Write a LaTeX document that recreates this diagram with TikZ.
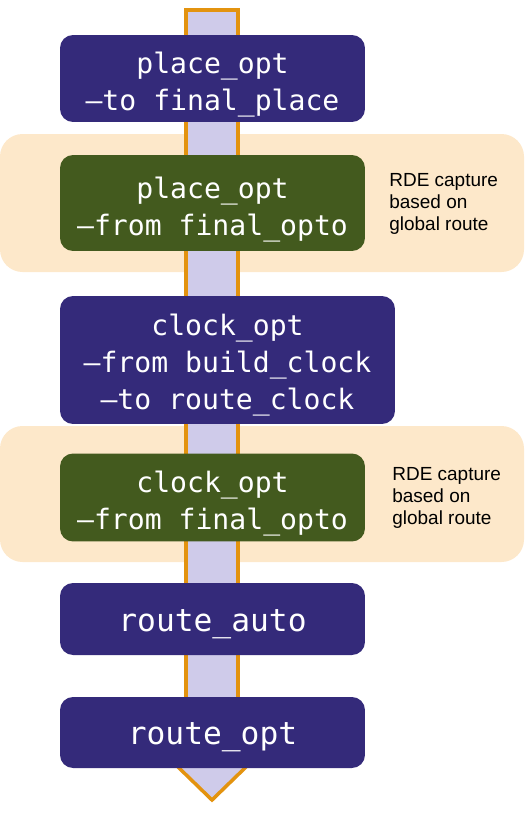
\documentclass[tikz,border=0pt]{standalone}
\usepackage{fontspec}
\setmonofont{DejaVu Sans Mono}
\setsansfont{Liberation Sans}
\usepackage{xcolor}
\definecolor{flowpurple}{RGB}{52, 42, 122}
\definecolor{flowgreen}{RGB}{67, 90, 30}
\definecolor{bandpeach}{RGB}{253, 232, 202}
\definecolor{arrowlav}{RGB}{207, 203, 234}
\definecolor{arroworange}{RGB}{227, 147, 15}

\begin{document}
\begin{tikzpicture}[x=0.02cm, y=-0.02cm,
    stage/.style={fill=flowpurple, rounded corners=0.26cm, inner sep=0pt},
    capture/.style={stage, fill=flowgreen},
    stagetext/.style={text=white, align=center, inner sep=0pt,
      font=\ttfamily\fontsize{16}{21}\selectfont},
    routetext/.style={stagetext, font=\ttfamily\fontsize{17.8}{21}\selectfont},
    note/.style={align=left, anchor=north west, inner sep=0pt,
      font=\sffamily\fontsize{10.8}{12.6}\selectfont}]
        \useasboundingbox (0,0) rectangle (530,828);
        % peach bands
        \foreach \ytop/\ybot in {134/272, 426/562}{
          \fill[bandpeach, rounded corners=0.45cm] (0,\ytop) rectangle (524,\ybot);
        }
        % flow arrow
        \draw[arroworange, line width=2pt, fill=arrowlav, line join=miter]
          (186,10) -- (238,10) -- (238,765) -- (248,765) -- (212,800)
          -- (176,765) -- (186,765) -- cycle;
        % stages
        \node[stage, minimum width=6.1cm, minimum height=1.74cm,
          label={[stagetext, yshift=-0.12cm]center:{place\_opt\\–to final\_place}}]
          (placeto) at (212.5,78.5) {};
        \node[capture, minimum width=6.1cm, minimum height=1.92cm,
          label={[stagetext, yshift=-0.13cm]center:{place\_opt\\–from final\_opto}}]
          (placefrom) at (212.5,203) {};
        \node[stage, minimum width=6.7cm, minimum height=2.56cm,
          label={[stagetext, yshift=-0.1cm]center:{clock\_opt\\–from build\_clock\\–to route\_clock}}]
          (clockbuild) at (227.5,360) {};
        \node[capture, minimum width=6.1cm, minimum height=1.76cm,
          label={[stagetext, yshift=-0.12cm]center:{clock\_opt\\–from final\_opto}}]
          (clockfrom) at (212.5,497.5) {};
        \node[stage, minimum width=6.1cm, minimum height=1.44cm,
          label={[routetext, yshift=-0.1cm]center:{route\_auto}}]
          (routeauto) at (212.5,619) {};
        \node[stage, minimum width=6.1cm, minimum height=1.42cm,
          label={[routetext, yshift=-0.1cm]center:{route\_opt}}]
          (routeopt) at (212.5,732.5) {};
        % notes
        \node[note] (noteplace) at (389,173) {RDE capture\\based on\\global route};
        \node[note] (noteclock) at (392,467) {RDE capture\\based on\\global route};
      \end{tikzpicture}
\end{document}
